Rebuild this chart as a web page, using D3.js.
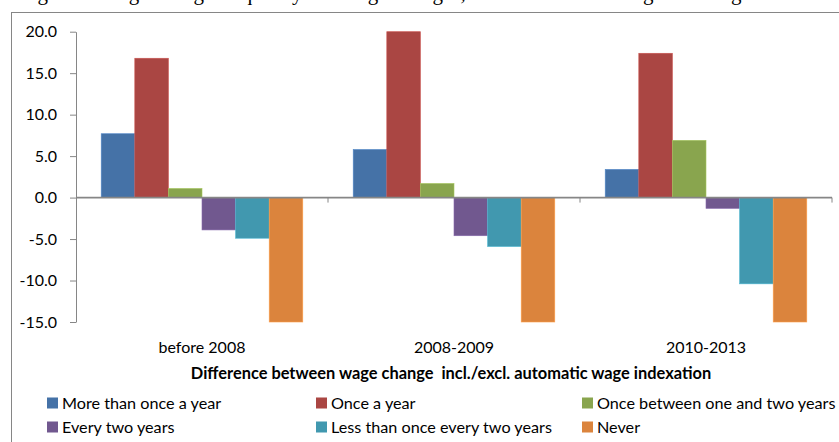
<!DOCTYPE html>
<html>
<head>
<meta charset="utf-8">
<script src="https://cdn.jsdelivr.net/npm/d3@7"></script>
<style>
  body { margin: 0; background: #fff; }
  svg { display: block; }
  text { font-family: Lato, "Open Sans", sans-serif; fill: #000; }
</style>
</head>
<body>
<svg id="chart" width="839" height="442"></svg>
<script>
// ---- data -------------------------------------------------------------
const categories = ["before 2008", "2008-2009", "2010-2013"];
const seriesNames = [
  "More than once a year",
  "Once a year",
  "Once between one and two years",
  "Every two years",
  "Less than once every two years",
  "Never"
];
const seriesColors = ["#4572A7", "#AA4643", "#89A54E", "#71588F", "#4198AF", "#DB843D"];

const moreThanOnceAYear   = [7.7, 5.8, 3.4];
const onceAYear           = [16.8, 20.0, 17.4];
const betweenOneAndTwo    = [1.1, 1.7, 6.9];
const everyTwoYears       = [-3.9, -4.6, -1.3];
const lessThanEveryTwo    = [-4.9, -5.9, -10.4];
const never               = [-16.5, -17.0, -16.2]; // runs past the axis minimum

const yTicks = [20, 15, 10, 5, 0, -5, -10, -15];
const axisTitle = "Difference between wage change  incl./excl. automatic wage indexation";
const pageTitle = "Figure 6: Wage change frequency and wage changes, with and without wage indexing";

const seriesValues = [moreThanOnceAYear, onceAYear, betweenOneAndTwo,
                      everyTwoYears, lessThanEveryTwo, never];

// ---- layout -----------------------------------------------------------
const svg = d3.select("#chart");
const axisGrey = "#868686";

const plot = { left: 76, right: 832, top: 31.7, bottom: 322 };

const y = d3.scaleLinear()
  .domain([-15, 20])
  .range([plot.bottom, plot.top])
  .clamp(true);

const x0 = d3.scaleBand()
  .domain(categories)
  .range([plot.left, plot.right])
  .paddingInner(0)
  .paddingOuter(0);

const x1 = d3.scaleBand()
  .domain(d3.range(seriesNames.length))
  .range([0, x0.bandwidth()])
  .paddingInner(0)
  .paddingOuter(0.75);

// heading above the frame (only its lower edge falls inside the page)
svg.append("text")
  .attr("x", 20)
  .attr("y", 0)
  .style("font-family", "'Liberation Serif', 'DejaVu Serif', serif")
  .style("font-size", "21px")
  .text(pageTitle);

// chart frame
svg.append("rect")
  .attr("x", 11.5).attr("y", 12.5)
  .attr("width", 900).attr("height", 500)
  .attr("fill", "none")
  .attr("stroke", axisGrey)
  .attr("stroke-width", 1);

// ---- bars -------------------------------------------------------------
const groups = svg.append("g").selectAll("g")
  .data(categories)
  .join("g")
  .attr("transform", d => `translate(${x0(d)},0)`);

groups.selectAll("rect")
  .data((cat, ci) => seriesValues.map((vals, si) => ({ si, v: vals[ci] })))
  .join("rect")
  .attr("x", d => x1(d.si))
  .attr("width", x1.bandwidth())
  .attr("y", d => y(Math.max(0, d.v)))
  .attr("height", d => Math.abs(y(d.v) - y(0)))
  .attr("fill", d => seriesColors[d.si])
  .attr("stroke", d => d3.color(seriesColors[d.si]).brighter(0.5))
  .attr("stroke-width", 0.6);

// ---- axes -------------------------------------------------------------
const yAxis = svg.append("g")
  .attr("transform", `translate(${plot.left},0)`)
  .call(d3.axisLeft(y)
    .tickValues(yTicks)
    .tickFormat(d => d.toFixed(1))
    .tickSize(6)
    .tickSizeOuter(0)
    .tickPadding(13));
yAxis.select(".domain").attr("stroke", axisGrey);
yAxis.selectAll(".tick line").attr("stroke", axisGrey);
yAxis.selectAll(".tick text")
  .style("font-size", "16px")
  .attr("fill", "#000");

// zero line with category boundary ticks
const zeroY = y(0);
svg.append("line")
  .attr("x1", plot.left).attr("x2", plot.right)
  .attr("y1", zeroY).attr("y2", zeroY)
  .attr("stroke", axisGrey)
  .attr("stroke-width", 1.6);

const boundaries = categories.map(c => x0(c)).concat([x0.range()[1]]);
svg.append("g").selectAll("line")
  .data(boundaries.slice(1))
  .join("line")
  .attr("x1", d => d).attr("x2", d => d)
  .attr("y1", zeroY).attr("y2", zeroY + 5)
  .attr("stroke", axisGrey)
  .attr("stroke-width", 1);

// category labels
svg.append("g").selectAll("text")
  .data(categories)
  .join("text")
  .attr("x", d => x0(d) + x0.bandwidth() / 2)
  .attr("y", 352.5)
  .attr("text-anchor", "middle")
  .style("font-size", "16px")
  .text(d => d);

// axis title
svg.append("text")
  .attr("x", 451)
  .attr("y", 378.5)
  .attr("text-anchor", "middle")
  .style("font-size", "16.4px")
  .style("font-weight", "bold")
  .style("white-space", "pre")
  .text(axisTitle);

// ---- legend -----------------------------------------------------------
const legendCols = [47, 316, 582];
const legendRows = [403, 427];
const legend = svg.append("g").selectAll("g")
  .data(seriesNames)
  .join("g")
  .attr("transform", (d, i) => `translate(${legendCols[i % 3]},${legendRows[Math.floor(i / 3)]})`);

legend.append("rect")
  .attr("x", 0).attr("y", -5.5)
  .attr("width", 11).attr("height", 11)
  .attr("fill", (d, i) => seriesColors[i]);

legend.append("text")
  .attr("x", 15)
  .attr("y", 5.5)
  .style("font-size", "16.2px")
  .text(d => d);
</script>
</body>
</html>
